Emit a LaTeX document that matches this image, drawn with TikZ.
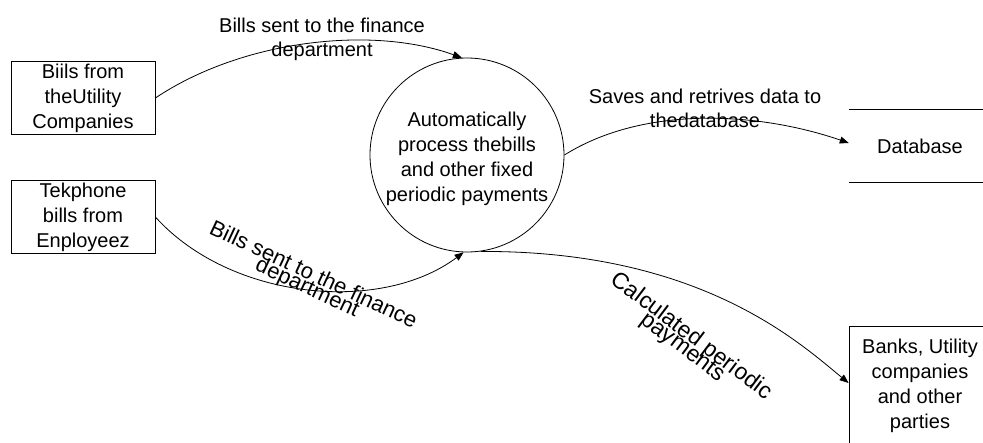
\documentclass[tikz,border=0pt]{standalone}
\usepackage{fontspec}
\setmainfont{Liberation Sans}
\usetikzlibrary{arrows.meta}
\begin{document}
\begin{tikzpicture}[x=1pt,y=-1pt,
  txt/.style={font=\fontsize{20}{25}\selectfont, align=center, inner sep=0pt},
  lbl/.style={font=\fontsize{20}{24}\selectfont, align=center, inner sep=0pt},
  rot/.style={font=\fontsize{#1}{25}\selectfont, align=center, inner sep=0pt},
  entity/.style={draw, line width=0.8pt, txt, minimum width=144pt, minimum height=73pt},
  flow/.style={line width=0.8pt, -{Triangle[length=9pt,width=7pt]}},
]
\useasboundingbox (0,0) rectangle (983,442);
\clip (0,0) rectangle (983,442);

\node[entity] (b1) at (83,98) {Biils from\\theUtility\\Companies};
\node[entity] (b2) at (83,217) {Tekphone\\bills from\\Enployeez};
\node[draw, circle, line width=0.8pt, minimum size=194pt] (c) at (467,155) {};
\node[txt] (ct) at (467,159)
  {Automatically\\process thebills\\and other fixed\\periodic payments};
\node[txt, minimum width=142pt, minimum height=72pt] (db) at (920,146) {Database};
\draw[line width=0.8pt] (db.north west) -- (db.north east);
\draw[line width=0.8pt] (db.south west) -- (db.south east);
\node[draw, line width=0.8pt, txt, minimum width=142pt, minimum height=120pt] (banks) at (920,386)
  {Banks, Utility\\companies\\and other\\parties};

\draw[flow] (b1.east) .. controls +(85,-57) and +(-92,-33) .. (c.93);
\draw[flow] (b2.east) .. controls +(75,83) and +(-83,62) .. (c.-92);
\draw[flow] (c.east) .. controls +(80,-50) and +(-90,-31) .. ([yshift=3pt]db.west);
\draw[flow] (c.-82) .. controls +(220,-1) and +(-49,-40) .. ([yshift=3pt]banks.west);

\node[lbl] (l1) at (322,39) {Bills sent to the finance\\department};
\node[lbl] (l3) at (705,108) {Saves and retrives data to\\thedatabase};
\node[rot=22, rotate=-25] (l2) at (310,282) {Bills sent to the finance\\[-11pt]department};
\node[rot=23, rotate=-37] (l4) at (687,342) {Calculated periodic\\[-11pt]payments};
\end{tikzpicture}
\end{document}
